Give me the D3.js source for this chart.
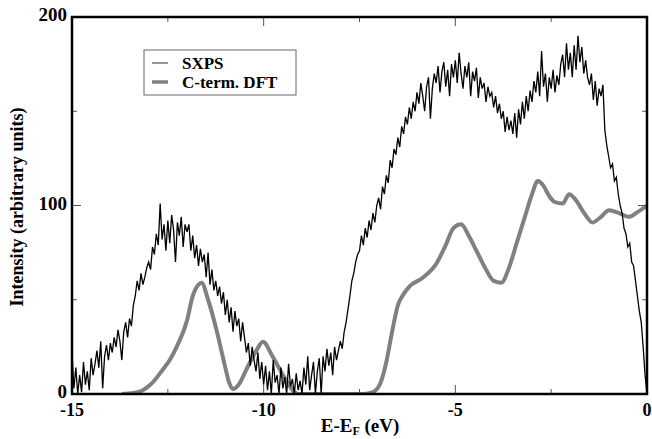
<!DOCTYPE html>
<html><head><meta charset="utf-8">
<script src="https://cdn.jsdelivr.net/npm/d3@7/dist/d3.min.js"></script>
<style>body{margin:0;background:#fff}svg{display:block}</style>
</head><body>
<svg id="chart" width="652" height="439"></svg>
<script>
// ---- data ----
const xTicksMajor = [-15, -10, -5, 0];
const xTicksMinor = [-12.5, -7.5, -2.5];
const yTicksMajor = [0, 100, 200];
const yTicksMinor = [50, 150];
const seriesNames = ["SXPS", "C-term. DFT"];

// SXPS spectrum sampled from E=-15 eV every 0.05 eV
const sxpsStart = -15, sxpsStep = 0.05;
const sxpsValues = [
 22, 3, 14, 0, 10, 1, 17, 5, 12, 2,
 19, 10, 16, 23, 14, 28, 3, 20, 26, 18,
 27, 22, 30, 25, 34, 28, 18, 33, 38, 30,
 40, 36, 47, 52, 60, 55, 64, 58, 62, 67,
 70, 66, 78, 74, 85, 79, 101, 82, 90, 76,
 92, 80, 95, 87, 70, 91, 84, 94, 78, 90,
 86, 90, 76, 84, 72, 79, 68, 77, 70, 74,
 62, 75, 58, 66, 55, 60, 52, 57, 48, 54,
 42, 50, 38, 46, 33, 44, 36, 40, 28, 38,
 30, 22, 27, 15, 25, 18, 12, 22, 8, 17,
 5, 15, 2, 12, 0, 18, 6, 10, 0, 14,
 3, 9, 0, 16, 4, 8, 0, 11, 2, 7,
 0, 14, 5, 20, 2, 10, 17, 0, 12, 19,
 0, 20, 12, 24, 15, 22, 10, 25, 18, 23,
 28, 24, 33, 38, 45, 52, 60, 64, 70, 74,
 76, 84, 79, 88, 83, 92, 87, 96, 91, 100,
 104, 98, 110, 106, 116, 112, 124, 120, 130, 127,
 136, 131, 142, 138, 147, 143, 152, 146, 155, 150,
 160, 154, 165, 158, 150, 163, 168, 146, 162, 170,
 165, 174, 160, 171, 176, 163, 172, 158, 175, 168,
 177, 165, 181, 170, 162, 174, 168, 176, 158, 171,
 166, 173, 157, 168, 162, 165, 155, 163, 158, 160,
 152, 158, 149, 154, 146, 150, 139, 147, 140, 145,
 138, 149, 136, 151, 143, 155, 146, 158, 150, 161,
 155, 166, 160, 171, 158, 182, 163, 170, 155, 168,
 162, 172, 160, 169, 164, 175, 180, 168, 186, 172,
 181, 168, 185, 172, 190, 176, 184, 170, 177, 168,
 164, 170, 156, 166, 153, 162, 158, 164, 140, 132,
 126, 120, 122, 113, 115, 106, 100, 96, 88, 85,
 78, 80, 70, 68, 60, 52, 44, 38, 25, 10,
 0
];

// C-terminated DFT curve
const dftEnergy = [-13.7, -13.4, -13.15, -12.9, -12.63, -12.45, -12.27, -12.0, -11.85, -11.7, -11.62, -11.45, -11.23, -11.0, -10.9, -10.8, -10.65, -10.45, -10.19, -10.02, -9.77, -9.55, -9.375, -9.2, -9.1,
  -7.4, -7.15, -6.95, -6.8, -6.65, -6.5, -6.35, -6.2, -5.86, -5.5, -5.25, -5.05, -4.85, -4.65, -4.45, -4.2, -4.0, -3.8, -3.6, -3.4, -3.2, -3.0, -2.85, -2.72, -2.55, -2.42, -2.2, -2.03, -1.86, -1.64, -1.42, -1.2, -0.99, -0.73, -0.47, -0.25, 0];
const dftValues = [0, 0.5, 2, 6, 13, 18, 25, 39, 52, 58, 59, 50, 34, 14, 6, 2.6, 5, 13, 23, 27.7, 20, 12, 6, 1, 0,
  0, 1, 6, 17, 33, 47, 53, 57, 61.5, 69, 79, 88, 90, 84, 76, 66, 60, 59, 67, 80, 93, 106, 113, 111, 105, 102, 101, 106, 103, 96, 91, 94, 97.5, 96, 94, 96.5, 100];

// ---- drawing ----
const svg = d3.select("#chart");
svg.append("rect").attr("width", 652).attr("height", 439).attr("fill", "#fff");
const L = 72, R = 647, T = 17, B = 394;
const x = d3.scaleLinear().domain([-15, 0]).range([L, R]);
const y = d3.scaleLinear().domain([0, 200]).range([B, T]);
const font = "'Liberation Serif','Times New Roman',serif";

const plot = svg.append("g");
plot.append("clipPath").attr("id", "clip").append("rect")
  .attr("x", L).attr("y", T).attr("width", R - L).attr("height", B - T);

const sxps = sxpsValues.map((v, i) => [sxpsStart + i * sxpsStep, v]);
const dft = dftEnergy.map((e, i) => [e, dftValues[i]]);

const line = d3.line().x(d => x(d[0])).y(d => y(d[1]));
const smooth = d3.line().x(d => x(d[0])).y(d => y(d[1])).curve(d3.curveMonotoneX);

const g = plot.append("g").attr("clip-path", "url(#clip)");
g.append("path").datum(dft).attr("d", smooth).attr("fill", "none")
  .attr("stroke", "#808080").attr("stroke-width", 4).attr("stroke-linejoin", "round");
g.append("path").datum(sxps).attr("d", line).attr("fill", "none")
  .attr("stroke", "#000").attr("stroke-width", 1.3);

// ticks (inward, on all four sides)
const tk = svg.append("g").attr("stroke", "#555").attr("stroke-width", 1);
const tickMaj = 9, tickMin = 5;
xTicksMajor.concat(xTicksMinor).forEach(v => {
  const len = xTicksMajor.includes(v) ? tickMaj : tickMin;
  tk.append("line").attr("x1", x(v)).attr("x2", x(v)).attr("y1", B).attr("y2", B - len);
  tk.append("line").attr("x1", x(v)).attr("x2", x(v)).attr("y1", T).attr("y2", T + len);
});
yTicksMajor.concat(yTicksMinor).forEach(v => {
  const len = yTicksMajor.includes(v) ? tickMaj : tickMin;
  tk.append("line").attr("y1", y(v)).attr("y2", y(v)).attr("x1", L).attr("x2", L + len);
  tk.append("line").attr("y1", y(v)).attr("y2", y(v)).attr("x1", R).attr("x2", R - len);
});

// frame
svg.append("rect").attr("x", L).attr("y", T).attr("width", R - L).attr("height", B - T)
  .attr("fill", "none").attr("stroke", "#000").attr("stroke-width", 2.5);

// tick labels
svg.append("g").selectAll("text").data(xTicksMajor).join("text")
  .attr("x", d => x(d)).attr("y", 416).attr("text-anchor", "middle")
  .attr("font-family", font).attr("font-weight", "bold").attr("font-size", 18)
  .text(d => d);
svg.append("g").selectAll("text").data(yTicksMajor).join("text")
  .attr("x", 67).attr("y", d => y(d) + 4).attr("text-anchor", "end")
  .attr("font-family", font).attr("font-weight", "bold").attr("font-size", 19)
  .text(d => d);

// axis titles
const xt = svg.append("text").attr("x", 360).attr("y", 432).attr("text-anchor", "middle")
  .attr("font-family", font).attr("font-weight", "bold").attr("font-size", 19);
xt.append("tspan").text("E-E");
xt.append("tspan").attr("font-size", 12).attr("dy", 3).text("F");
xt.append("tspan").attr("dy", -3).text(" (eV)");

svg.append("text").attr("transform", "translate(23,207) rotate(-90)")
  .attr("text-anchor", "middle").attr("font-family", font).attr("font-weight", "bold")
  .attr("font-size", 18).text("Intensity (arbitrary units)");

// legend
const lg = svg.append("g");
lg.append("rect").attr("x", 144).attr("y", 50).attr("width", 152).attr("height", 45)
  .attr("fill", "#fff").attr("stroke", "#666").attr("stroke-width", 1);
const legendStyles = [{c: "#333", w: 1}, {c: "#808080", w: 3.5}];
seriesNames.forEach((n, i) => {
  const yy = 63 + i * 19;
  lg.append("line").attr("x1", 152).attr("x2", 168).attr("y1", yy).attr("y2", yy)
    .attr("stroke", legendStyles[i].c).attr("stroke-width", legendStyles[i].w);
  lg.append("text").attr("x", 182).attr("y", yy + 6).attr("font-family", font)
    .attr("font-weight", "bold").attr("font-size", 17).text(n);
});
</script>
</body></html>
